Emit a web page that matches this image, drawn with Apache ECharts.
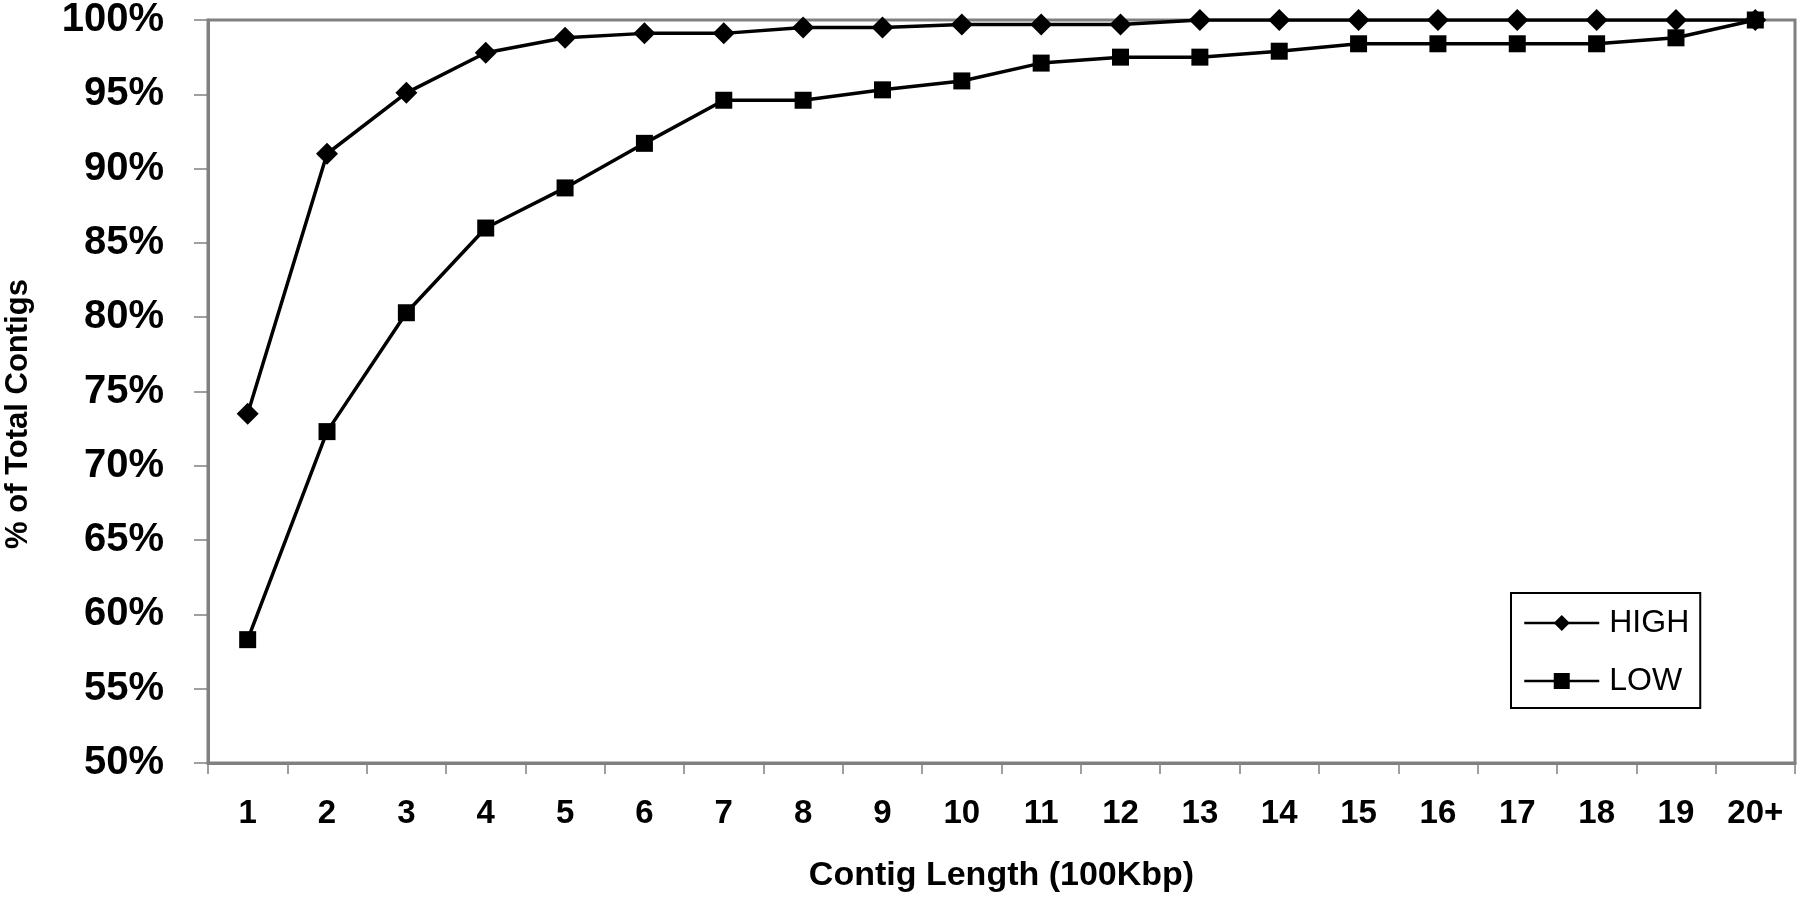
<!DOCTYPE html>
<html><head><meta charset="utf-8">
<script src="https://cdn.jsdelivr.net/npm/echarts@6/dist/echarts.min.js"></script>
<style>html,body{margin:0;padding:0;background:#fff}#c{width:1800px;height:898px}</style>
</head><body><div id="c"></div>
<script>
const categories = ['1','2','3','4','5','6','7','8','9','10','11','12','13','14','15','16','17','18','19','20+'];
const highValues = [73.5, 91.0, 95.1, 97.8, 98.8, 99.1, 99.1, 99.5, 99.5, 99.7, 99.7, 99.7, 100, 100, 100, 100, 100, 100, 100, 100];
const lowValues = [58.3, 72.3, 80.3, 86.0, 88.7, 91.7, 94.6, 94.6, 95.3, 95.9, 97.1, 97.5, 97.5, 97.9, 98.4, 98.4, 98.4, 98.4, 98.8, 100];
const seriesNames = ['HIGH', 'LOW'];
const xTitle = 'Contig Length (100Kbp)';
const yTitle = '% of Total Contigs';

const FONT = '"Liberation Sans", Arial, sans-serif';
const chart = echarts.init(document.getElementById('c'), null, {renderer: 'canvas'});
chart.setOption({
  animation: false,
  backgroundColor: '#fff',
  grid: {left: 208, right: 5, top: 20, bottom: 135, show: true, borderColor: '#808080', borderWidth: 3, containLabel: false},
  xAxis: {
    type: 'category', data: categories, boundaryGap: true,
    axisLine: {lineStyle: {color: '#808080', width: 3}},
    axisTick: {show: true, length: 11, alignWithLabel: false, lineStyle: {color: '#808080', width: 1.5}},
    axisLabel: {margin: 34, color: '#000', fontFamily: FONT, fontWeight: 'bold', fontSize: 33},
    splitLine: {show: false},
    name: xTitle, nameLocation: 'middle', nameGap: 96,
    nameTextStyle: {color: '#000', fontFamily: FONT, fontWeight: 'bold', fontSize: 34}
  },
  yAxis: {
    type: 'value', min: 50, max: 100, interval: 5,
    axisLine: {show: true, lineStyle: {color: '#808080', width: 3}},
    axisTick: {show: true, length: 14, lineStyle: {color: '#808080', width: 1.5}},
    axisLabel: {margin: 44, color: '#000', fontFamily: FONT, fontWeight: 'bold', fontSize: 40, formatter: '{value}%'},
    splitLine: {show: false}
  },
  graphic: [{
    type: 'text', x: 18, y: 414, rotation: Math.PI / 2,
    style: {text: yTitle, fill: '#000', font: 'bold 31px ' + FONT, align: 'center', verticalAlign: 'middle'}
  }],
  legend: {
    left: 1511, top: 593, orient: 'vertical', selectedMode: false,
    data: seriesNames,
    backgroundColor: '#fff', borderColor: '#000', borderWidth: 2,
    padding: [13, 11, 10, 12], itemGap: 24, itemWidth: 75, itemHeight: 20,
    lineStyle: {width: 2.5},
    textStyle: {color: '#000', fontFamily: FONT, fontSize: 32, lineHeight: 34, padding: [0, 0, 0, 5]}
  },
  series: [
    {name: 'HIGH', type: 'line', data: highValues, symbol: 'diamond', symbolSize: 22,
     lineStyle: {color: '#000', width: 3.5}, itemStyle: {color: '#000'}, z: 3},
    {name: 'LOW', type: 'line', data: lowValues, symbol: 'rect', symbolSize: 17,
     lineStyle: {color: '#000', width: 3.5}, itemStyle: {color: '#000'}, z: 4}
  ]
});
</script></body></html>
